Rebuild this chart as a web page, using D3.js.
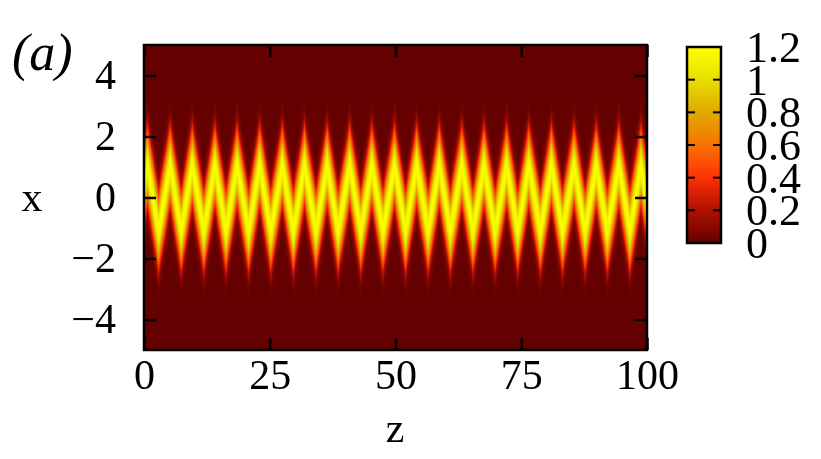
<!DOCTYPE html>
<html>
<head>
<meta charset="utf-8">
<script src="https://cdn.jsdelivr.net/npm/d3@7"></script>
<style>
  body { margin: 0; background: #fff; }
  #wrap { position: relative; width: 821px; height: 459px; }
  canvas, svg { position: absolute; left: 0; top: 0; }
  text { font-family: 'Liberation Serif', 'DejaVu Serif', serif; fill: #000; }
</style>
</head>
<body>
<div id="wrap"></div>
<script>
// turning points of the beam centre (z, x)
var turnZ = [-1.5, 0.7, 2.9, 5.2, 7.4, 9.6, 11.9, 14.1, 16.3, 18.5, 20.8, 23.0, 25.2,
             27.5, 29.7, 31.9, 34.2, 36.4, 38.6, 40.9, 43.1, 45.3, 47.5, 49.8, 52.0,
             54.2, 56.5, 58.7, 60.9, 63.2, 65.4, 67.6, 69.8, 72.1, 74.3, 76.5, 78.8,
             81.0, 83.2, 85.5, 87.7, 89.9, 92.1, 94.4, 96.6, 98.8, 101.0];
var turnX = turnZ.map((d, i) => i % 2 ? 1.05 : -1.1);

// intensity across the beam vs distance from its centre
var profileDist  = [0, 0.2, 0.4, 0.6, 0.8, 1.0, 1.2, 1.4, 1.6, 1.8, 2.0, 2.4];
var profileValue = [1.2, 1.15, 1.06, 0.94, 0.78, 0.6, 0.42, 0.26, 0.14, 0.07, 0.03, 0];

var zTicks = [0, 25, 50, 75, 100];
var xTicks = [-4, -2, 0, 2, 4];
var cbTicks = [0, 0.2, 0.4, 0.6, 0.8, 1, 1.2];
var paletteStops = [0, 0.2, 0.4, 0.6, 0.8, 1.0, 1.2];
var paletteColors = ['#640000', '#b01000', '#ff3008', '#f87400', '#e0a800', '#e8e000', '#ffff00'];

var W = 821, H = 459;
var plot = {left: 144, right: 647, top: 45, bottom: 350};
var cb = {left: 687, right: 721, top: 47, bottom: 243};

var xScale = d3.scaleLinear().domain([0, 100]).range([plot.left, plot.right]);
var yScale = d3.scaleLinear().domain([-5, 5]).range([plot.bottom, plot.top]);
var centre = d3.scaleLinear().domain(turnZ).range(turnX);
var profile = d3.scaleLinear().domain(profileDist).range(profileValue).clamp(true);
var colorScale = d3.scaleLinear().domain(paletteStops).range(paletteColors).clamp(true);
var cbScale = d3.scaleLinear().domain([0, 1.2]).range([cb.bottom, cb.top]);

var wrap = d3.select('#wrap');

// heat map painted pixel by pixel
var canvas = wrap.append('canvas')
    .attr('width', W)
    .attr('height', H);
var ctx = canvas.node().getContext('2d');
var pw = plot.right - plot.left, ph = plot.bottom - plot.top;
var img = ctx.createImageData(pw, ph);
for (var i = 0; i < pw; i++) {
  var z = xScale.invert(plot.left + i + 0.5);
  var c = centre(z);
  for (var j = 0; j < ph; j++) {
    var x = yScale.invert(plot.top + j + 0.5);
    var col = d3.rgb(colorScale(profile(Math.abs(x - c))));
    var k = (j * pw + i) * 4;
    img.data[k] = col.r; img.data[k + 1] = col.g; img.data[k + 2] = col.b; img.data[k + 3] = 255;
  }
}
ctx.putImageData(img, plot.left, plot.top);

var svg = wrap.append('svg')
    .attr('width', W)
    .attr('height', H);

// colour bar
var grad = svg.append('defs').append('linearGradient')
    .attr('id', 'cbgrad')
    .attr('x1', 0).attr('y1', 1).attr('x2', 0).attr('y2', 0);
grad.selectAll('stop')
  .data(d3.range(0, 1.2001, 0.05)).enter().append('stop')
    .attr('offset', d => d / 1.2)
    .attr('stop-color', d => colorScale(d));
svg.append('rect')
    .attr('x', cb.left).attr('y', cb.top)
    .attr('width', cb.right - cb.left).attr('height', cb.bottom - cb.top)
    .attr('fill', 'url(#cbgrad)');

var cbT = svg.append('g');
cbT.selectAll('line.l')
  .data(cbTicks.slice(1, -1)).enter().append('line')
    .attr('x1', cb.left).attr('x2', cb.left + 8)
    .attr('y1', d => cbScale(d)).attr('y2', d => cbScale(d))
    .attr('stroke', '#000').attr('stroke-width', 2);
cbT.selectAll('line.r')
  .data(cbTicks.slice(1, -1)).enter().append('line')
    .attr('x1', cb.right - 8).attr('x2', cb.right)
    .attr('y1', d => cbScale(d)).attr('y2', d => cbScale(d))
    .attr('stroke', '#000').attr('stroke-width', 2);
cbT.selectAll('text')
  .data(cbTicks).enter().append('text')
    .attr('x', 746)
    .attr('y', d => cbScale(d))
    .attr('dy', '0.34em')
    .attr('font-size', 44)
    .text(d => d);
svg.append('rect')
    .attr('x', cb.left).attr('y', cb.top)
    .attr('width', cb.right - cb.left).attr('height', cb.bottom - cb.top)
    .attr('fill', 'none').attr('stroke', '#000').attr('stroke-width', 2.5);

// axes with inward ticks, mirrored on top and right
function styleAxis(g) {
  g.select('.domain').remove();
  g.selectAll('.tick line').attr('stroke', '#000').attr('stroke-width', 2.5);
  g.selectAll('.tick text').attr('font-size', 42).attr('font-family', "'Liberation Serif', serif");
}

svg.append('g')
    .attr('transform', 'translate(0,' + plot.bottom + ')')
    .call(d3.axisBottom(xScale).tickValues(zTicks).tickSize(-12).tickPadding(9))
    .call(styleAxis);
svg.append('g')
    .attr('transform', 'translate(0,' + plot.top + ')')
    .call(d3.axisTop(xScale).tickValues(zTicks).tickSize(-12).tickFormat(''))
    .call(styleAxis);
svg.append('g')
    .attr('transform', 'translate(' + plot.left + ',0)')
    .call(d3.axisLeft(yScale).tickValues(xTicks).tickSize(-12).tickPadding(28)
          .tickFormat(d => d < 0 ? '\u2212' + Math.abs(d) : d))
    .call(styleAxis);
svg.append('g')
    .attr('transform', 'translate(' + plot.right + ',0)')
    .call(d3.axisRight(yScale).tickValues(xTicks).tickSize(-12).tickFormat(''))
    .call(styleAxis);

svg.append('rect')
    .attr('x', plot.left).attr('y', plot.top)
    .attr('width', pw).attr('height', ph)
    .attr('fill', 'none').attr('stroke', '#000').attr('stroke-width', 2.5);

svg.append('text')
    .attr('x', 395).attr('y', 442)
    .attr('text-anchor', 'middle')
    .attr('font-size', 42)
    .text('z');
svg.append('text')
    .attr('x', 32).attr('y', 198)
    .attr('dy', '0.3em')
    .attr('text-anchor', 'middle')
    .attr('font-size', 42)
    .text('x');
svg.append('text')
    .attr('x', 12).attr('y', 70)
    .attr('font-size', 52)
    .attr('font-style', 'italic')
    .text('(a)');
</script>
</body>
</html>
